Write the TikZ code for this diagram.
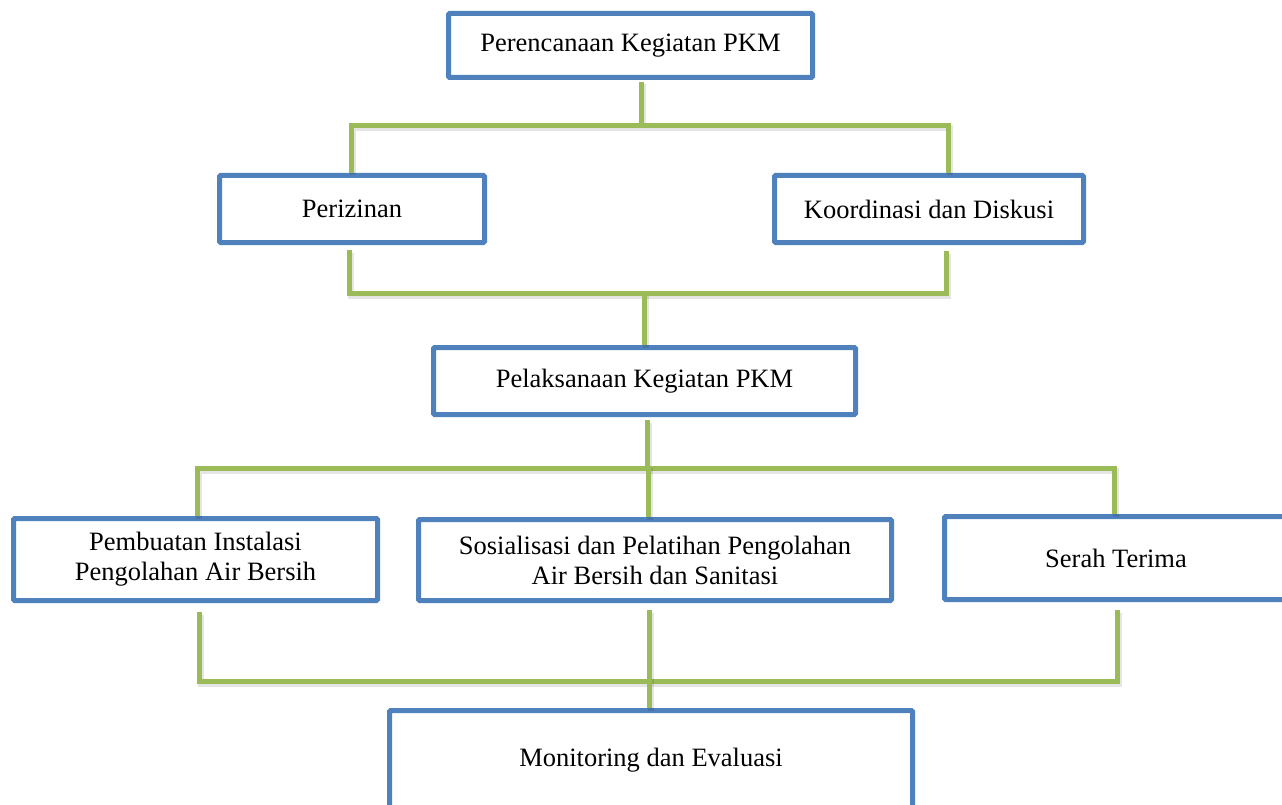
\documentclass[tikz,border=0pt]{standalone}
\usepackage{fontspec}
\setmainfont{Liberation Serif}
\definecolor{boxblue}{HTML}{4F81BD}
\definecolor{linegreen}{HTML}{9BBB59}
\tikzset{
  box/.style={draw=boxblue, line width=5pt, rectangle, rounded corners=1.2pt, fill=white,
    inner sep=0pt, align=center, font=\fontsize{26.5}{30}\selectfont},
  conn/.style={draw=linegreen, line width=5pt, line join=miter,
    preaction={draw=black, draw opacity=0.10, line width=6pt, transform canvas={shift={(1.5pt,-2.5pt)}}}}
}
\begin{document}
\begin{tikzpicture}[x=1pt,y=-1pt]
\clip (0,0) rectangle (1282,805);
\fill[white] (0,0) rectangle (1282,805);

\node[box, minimum width=364pt, minimum height=64pt] (A) at (630.5,45.5) {Perencanaan Kegiatan PKM};
\node[box, minimum width=265pt, minimum height=67pt] (B) at (352,209) {Perizinan};
\node[box, minimum width=309pt, minimum height=67pt] (C) at (929,209) {Koordinasi dan Diskusi};
\node[box, minimum width=422pt, minimum height=67pt] (D) at (644.5,381) {Pelaksanaan Kegiatan PKM};
\node[box, minimum width=364pt, minimum height=82pt] (E) at (195.5,559.5) {Pembuatan Instalasi\\Pengolahan Air Bersih};
\node[box, minimum width=473pt, minimum height=81pt] (F) at (655,560) {Sosialisasi dan Pelatihan Pengolahan\\Air Bersih dan Sanitasi};
\node[box, minimum width=343pt, minimum height=83pt] (G) at (1116,558) {Serah Terima};
\node[box, minimum width=523pt, minimum height=99pt] (H) at (651,760) {Monitoring dan Evaluasi};

\coordinate (j1) at (641,126);
\coordinate (j2) at (644,293);
\coordinate (j3) at (647,468);
\coordinate (j4) at (649,681);

% bus 1
\draw[conn] ([xshift=10.5pt,yshift=-2pt]A.south) -- (j1);
\draw[conn] ([xshift=-1pt]B.north) |- (j1) -| ([xshift=19pt]C.north);
% bus 2
\draw[conn] ([xshift=-3pt,yshift=-5pt]B.south) |- (j2) -| ([xshift=17pt,yshift=-6pt]C.south);
\draw[conn] (j2) -- ([xshift=-0.5pt]D.north);
% bus 3
\draw[conn] ([xshift=2.5pt,yshift=-3pt]D.south) -- (j3);
\draw[conn] ([xshift=1.5pt]E.north) |- (j3) -| ([xshift=-2pt]G.north);
\draw[conn] ([xshift=-7pt]F.north) |- (j3);
% bus 4
\draw[conn] ([xshift=3.5pt,yshift=-9pt]E.south) |- (j4) -| ([xshift=1pt,yshift=-8pt]G.south);
\draw[conn] ([xshift=-6pt,yshift=-7pt]F.south) -- (j4);
\draw[conn] (j4) -- ([xshift=-2pt]H.north);
\end{tikzpicture}
\end{document}
